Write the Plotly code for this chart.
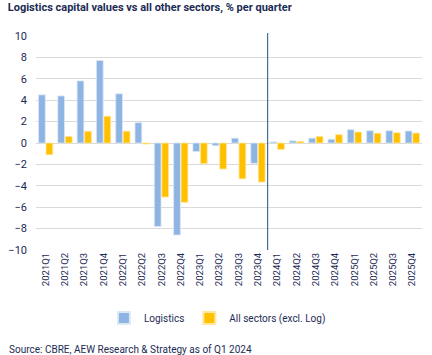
import plotly.graph_objects as go

quarters = ["2021Q1", "2021Q2", "2021Q3", "2021Q4", "2022Q1", "2022Q2", "2022Q3", "2022Q4",
            "2023Q1", "2023Q2", "2023Q3", "2023Q4", "2024Q1", "2024Q2", "2024Q3", "2024Q4",
            "2025Q1", "2025Q2", "2025Q3", "2025Q4"]
logistics = [4.5, 4.4, 5.8, 7.7, 4.6, 1.9, -7.8, -8.6, -0.8, -0.25, 0.45, -1.9,
             0.1, 0.2, 0.45, 0.35, 1.25, 1.15, 1.15, 1.12]
all_sectors = [-1.1, 0.62, 1.1, 2.5, 1.1, -0.1, -5.05, -5.55, -1.93, -2.43, -3.35, -3.65,
               -0.6, 0.15, 0.62, 0.78, 1.03, 0.92, 0.96, 0.93]
forecast_split = 11.5

navy = "#1c2b54"
font_fam = "Roboto, sans-serif"

fig = go.Figure()
fig.add_trace(go.Bar(x=quarters, y=logistics, name="Logistics",
                     marker=dict(color="#8db4e2", line=dict(color="#dce8f5", width=0.8))))
fig.add_trace(go.Bar(x=quarters, y=all_sectors, name="All sectors (excl. Log)",
                     marker=dict(color="#ffc000", line=dict(color="#ffe9a0", width=0.8))))

fig.add_shape(type="line", xref="x", yref="paper", x0=forecast_split, x1=forecast_split,
              y0=0, y1=1.014, line=dict(color="#3f7198", width=1.2))

fig.update_layout(
    width=432, height=355,
    margin=dict(l=36, r=10, t=36, b=105, autoexpand=False),
    paper_bgcolor="white", plot_bgcolor="white",
    barmode="group", bargap=0.22, bargroupgap=0.1,
    font=dict(family=font_fam, color=navy, size=11),
    title=dict(text="<b>Logistics capital values vs all other sectors, % per quarter</b>",
               x=0.018, xanchor="left", y=0.99, yanchor="top",
               font=dict(family=font_fam, size=11, color=navy)),
    showlegend=True,
    legend=dict(orientation="h", x=0.47, xanchor="center", yref="container",
                y=0.104, yanchor="middle",
                font=dict(size=10, color=navy), itemsizing="constant",
                traceorder="normal", itemwidth=30),
    annotations=[dict(text="Source: CBRE, AEW Research & Strategy as of Q1 2024",
                      xref="paper", yref="paper", x=-0.075, y=-0.43,
                      xanchor="left", yanchor="top", showarrow=False,
                      font=dict(size=10, color=navy))],
)
fig.update_xaxes(tickangle=-90, tickfont=dict(size=9.5, color=navy), showgrid=False,
                 showline=False, ticks="", type="category", automargin=False)
fig.update_yaxes(range=[-10, 10], dtick=2, gridcolor="#d9d9d9", gridwidth=1,
                 zeroline=True, zerolinecolor="#d9d9d9", zerolinewidth=1,
                 tickfont=dict(size=11, color=navy), ticks="", ticklabelstandoff=8,
                 automargin=False)

fig.write_html("out.html", config={"displayModeBar": False},
               post_script="document.body.style.margin='0';")
